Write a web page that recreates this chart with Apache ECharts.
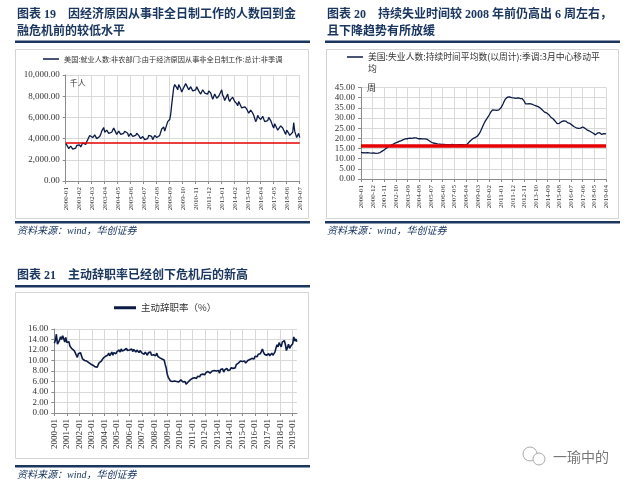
<!DOCTYPE html>
<html><head><meta charset="utf-8">
<script src="https://cdn.jsdelivr.net/npm/echarts/dist/echarts.min.js"></script>
<style>html,body{margin:0;padding:0;background:#fff}#c{width:634px;height:485px}</style>
</head><body><div id="c"></div><script>
// ---------------- DATA ----------------
const name1 = '美国:就业人数:非农部门:由于经济原因从事非全日制工作:总计:非季调';
const name2 = '美国:失业人数:持续时间平均数(以周计):季调:3月中心移动平均';
const name3 = '主动辞职率（%）';

// Chart 19: monthly 2000-01 .. 2019-07 (thousand persons)
const partTime = [
 3550,3400,3250,3050,3150,3300,3200,3000,2900,2850,3100,3350,
 3500,3300,3400,3200,3300,3600,3700,3500,3450,3700,3900,4100,
 4300,4200,4450,4100,4000,4350,4400,4000,3950,4050,4200,4400,
 4700,4600,5050,4600,4500,4800,4900,4500,4400,4550,4600,4800,
 5000,4800,4800,4400,4300,4700,4800,4400,4300,4400,4500,4700,
 4800,4600,4500,4200,4100,4500,4500,4200,4100,4200,4300,4500,
 4600,4300,4300,4000,3900,4200,4300,3900,3750,3900,4000,4300,
 4400,4200,4200,3900,3800,4300,4400,4100,4000,4200,4300,4600,
 4900,4800,5100,4700,4800,5300,5600,5500,5800,6300,7200,8000,
 8800,9100,9200,8800,8600,9100,9200,8700,8400,8600,8700,9000,
 9200,9000,9100,8600,8500,8900,8900,8500,8400,8500,8600,8900,
 8800,8500,8400,8200,8100,8600,8700,8300,8200,8300,8200,8500,
 8600,8300,8200,7700,7700,8200,8300,7800,7700,8000,8100,8400,
 8600,8100,7900,7600,7500,8000,8200,7700,7500,7700,7600,7900,
 7900,7500,7600,7300,7100,7500,7600,7100,6900,6800,6800,7000,
 7000,6800,6700,6400,6300,6700,6800,6400,6200,5900,5600,5800,
 6200,6000,6100,5800,5700,6100,6000,5600,5500,5600,5700,6000,
 6000,5700,5600,5200,5000,5400,5500,5000,4800,4900,4800,5200,
 5300,5000,4900,4600,4400,4800,4900,4500,4300,4300,4200,4600,
 5500,4700,4400,4100,3950,4500,4100
];
const partTimeRef = 3600;

// Chart 20: monthly 2000-01 .. 2019-04 (weeks)
const duration = [
 13.1,13.0,12.9,12.8,12.8,12.9,13.0,12.9,12.8,12.7,12.7,12.8,
 12.8,12.7,12.6,12.6,12.7,12.8,13.0,13.3,13.7,14.0,14.4,14.8,
 15.2,15.5,15.9,16.2,16.5,16.8,17.0,17.3,17.6,17.8,18.0,18.3,
 18.5,18.7,18.9,19.2,19.4,19.6,19.8,19.7,19.8,20.0,20.1,19.9,
 20.0,20.1,20.2,20.3,20.2,20.0,19.8,19.6,19.8,19.9,19.7,19.6,
 19.7,19.8,19.6,19.3,18.9,18.5,18.2,17.9,17.7,17.6,17.5,17.4,
 17.3,17.2,17.2,17.1,17.0,17.1,17.0,16.9,16.9,16.8,16.9,16.8,
 16.8,16.9,17.0,16.9,16.8,16.7,16.8,16.9,16.9,16.8,16.9,16.9,
 16.9,16.8,16.7,16.8,17.0,17.6,18.2,18.7,19.2,19.6,20.0,20.3,
 20.5,20.8,21.2,21.8,22.7,23.8,25.0,26.2,27.3,28.3,29.2,29.9,
 30.6,31.6,32.6,33.5,34.0,34.1,33.9,33.8,33.7,33.8,34.0,34.4,
 35.0,35.8,37.0,38.2,39.2,39.8,40.2,40.3,40.4,40.2,40.0,40.1,
 39.9,39.8,39.7,39.8,39.9,39.7,39.6,39.4,39.5,39.3,38.2,37.0,
 36.8,36.9,37.0,37.1,36.9,36.8,36.5,36.4,36.2,36.0,35.8,35.6,
 35.3,34.9,34.4,33.9,33.4,32.9,32.6,32.5,32.3,31.7,31.0,30.4,
 30.0,29.6,29.1,28.5,27.8,27.2,27.0,27.4,27.8,28.2,28.4,28.6,
 28.7,28.5,28.0,27.6,27.4,27.3,26.9,26.5,26.1,25.7,25.4,25.2,
 25.0,24.9,24.9,25.0,25.3,25.6,25.4,25.0,24.6,24.2,23.9,23.7,
 23.4,23.1,22.8,22.5,22.0,21.7,21.8,22.6,23.0,22.8,22.3,21.9,
 21.6,22.3,22.8,22.2
];
const durationRef = 16.3;

// Chart 21: monthly 2000-01 .. 2019-05 (%)
const quitRate = [
 13.3,13.8,15.0,13.1,12.8,13.9,14.5,14.0,14.7,14.2,13.5,14.4,
 13.4,13.1,13.6,12.7,12.9,12.2,12.5,11.9,11.5,11.0,10.6,11.3,
 11.0,11.5,10.9,10.3,10.6,10.0,10.2,9.9,10.1,9.6,9.8,9.3,
 9.5,9.1,9.3,8.8,9.0,8.7,9.2,9.6,9.4,9.9,10.1,10.5,
 10.2,10.8,10.6,11.0,11.4,10.9,11.2,11.6,11.0,11.5,11.8,11.3,
 11.7,11.4,12.0,11.6,12.2,11.8,11.5,12.0,11.7,12.3,11.9,11.6,
 12.0,11.8,12.2,11.7,12.1,11.9,11.6,12.0,11.8,11.5,11.9,11.6,
 11.4,11.7,11.2,11.6,11.3,11.0,11.5,11.2,11.6,11.0,11.3,11.1,
 11.2,10.9,11.4,10.8,11.1,10.5,10.8,10.3,10.6,10.1,9.3,8.6,
 7.4,6.8,6.5,6.1,5.9,6.0,5.8,6.1,5.9,6.0,6.2,5.9,
 6.0,6.3,6.1,5.9,6.2,6.0,5.5,5.7,5.9,6.0,6.3,6.5,
 6.6,6.4,6.7,6.9,6.6,7.0,7.2,6.9,7.3,7.1,7.4,7.6,
 7.3,7.7,7.5,7.9,8.2,7.6,7.9,8.0,7.7,8.1,7.8,8.0,
 7.9,8.1,7.6,8.3,8.0,8.4,7.8,8.2,7.9,8.5,8.1,8.3,
 8.2,8.6,8.9,8.5,8.8,8.6,9.2,9.0,9.5,9.3,9.9,10.2,
 9.8,9.6,9.9,9.5,9.7,10.0,9.8,10.2,10.0,10.4,10.6,10.3,
 10.8,11.0,10.7,11.2,11.5,11.3,11.7,12.2,11.6,11.2,11.4,11.0,
 11.1,11.3,10.9,11.2,11.4,11.0,11.3,11.6,12.4,13.0,12.6,13.4,
 13.0,12.6,13.5,13.2,13.8,13.0,11.9,12.5,13.1,12.3,12.7,12.5,
 13.2,14.5,13.7,14.1,13.6
];

function months(y, m, n) {
  const a = [];
  for (let i = 0; i < n; i++) {
    const k = m - 1 + i, yy = y + Math.floor(k / 12), mm = k % 12 + 1;
    a.push(yy + '-' + (mm < 10 ? '0' : '') + mm);
  }
  return a;
}
const cat1 = months(2000, 1, partTime.length);
const cat2 = months(2000, 1, duration.length);
const cat3 = months(2000, 1, quitRate.length);

// ---------------- STYLE ----------------
const NAVY = '#1B3760';
const LINE = '#0C1B46';
const RED = '#E60000';
const SERIF = '"Liberation Serif","DejaVu Serif",serif';
const CJK = '"Noto Sans CJK SC","Noto Sans",sans-serif';
const TITLEF = '"Liberation Serif","Noto Sans CJK SC",serif';
const GRIDC = '#d9d9d9';
const AXC = '#8c8c8c';

function xAxis(gi, data, interval, fs) {
  return {
    type: 'category', gridIndex: gi, data: data, boundaryGap: false,
    axisLine: { lineStyle: { color: AXC, width: 1 } },
    axisTick: { interval: interval, length: 3, lineStyle: { color: AXC } },
    axisLabel: { interval: interval, rotate: 90, fontSize: fs, fontFamily: SERIF, color: '#333', margin: 6 },
    splitLine: { show: true, interval: interval, lineStyle: { color: GRIDC, width: 1 } }
  };
}
function yAxis(gi, max, interval, fmt, extra) {
  return Object.assign({
    type: 'value', gridIndex: gi, min: 0, max: max, interval: interval,
    axisLine: { show: true, lineStyle: { color: AXC } },
    axisTick: { show: true, length: 3, lineStyle: { color: AXC } },
    axisLabel: { formatter: fmt, fontSize: 9, fontFamily: SERIF, color: '#333', margin: 6 },
    splitLine: { lineStyle: { color: GRIDC, width: 1 } }
  }, extra || {});
}
const f2 = v => v.toLocaleString('en-US', { minimumFractionDigits: 2, maximumFractionDigits: 2 });

const option = {
  backgroundColor: '#fff',
  animation: false,
  title: [
    { text: '图表 19\u3000因经济原因从事非全日制工作的人数回到金\n融危机前的较低水平', left: 17, top: 6, padding: 0,
      textStyle: { fontSize: 12, fontWeight: 'bold', color: NAVY, fontFamily: TITLEF, lineHeight: 17.5 } },
    { text: '图表 20\u3000持续失业时间较 2008 年前仍高出 6 周左右，\n且下降趋势有所放缓', left: 327, top: 6, padding: 0,
      textStyle: { fontSize: 12, fontWeight: 'bold', color: NAVY, fontFamily: TITLEF, lineHeight: 17.5 } },
    { text: '图表 21\u3000主动辞职率已经创下危机后的新高', left: 17, top: 267, padding: 0,
      textStyle: { fontSize: 12, fontWeight: 'bold', color: NAVY, fontFamily: TITLEF, lineHeight: 17.5 } },
    { text: '资料来源：wind，华创证券', left: 17, top: 226, padding: 0,
      textStyle: { fontSize: 10, fontStyle: 'italic', fontWeight: 'normal', color: NAVY, fontFamily: TITLEF } },
    { text: '资料来源：wind，华创证券', left: 327, top: 226, padding: 0,
      textStyle: { fontSize: 10, fontStyle: 'italic', fontWeight: 'normal', color: NAVY, fontFamily: TITLEF } },
    { text: '资料来源：wind，华创证券', left: 17, top: 470, padding: 0,
      textStyle: { fontSize: 10, fontStyle: 'italic', fontWeight: 'normal', color: NAVY, fontFamily: TITLEF } }
  ],
  legend: [
    { data: [name1], left: 43, top: 54, padding: 0, icon: 'rect', itemWidth: 16, itemHeight: 1.5,
      textStyle: { fontSize: 7.2, fontFamily: CJK, color: '#333', lineHeight: 10 } },
    { data: [name2], left: 347, top: 39, padding: 0, icon: 'rect', itemWidth: 16, itemHeight: 1.5,
      formatter: n => '\n' + n.replace('移动平均', '移动平\n均'),
      textStyle: { fontSize: 8.8, fontFamily: CJK, color: '#333', lineHeight: 12 } },
    { data: [name3], left: 114, top: 303, padding: 0, icon: 'rect', itemWidth: 22, itemHeight: 3,
      textStyle: { fontSize: 9.5, fontFamily: CJK, color: '#333' } }
  ],
  grid: [
    { left: 65.7, top: 75, width: 234, height: 106 },
    { left: 361, top: 87.5, width: 245, height: 91.5 },
    { left: 54.3, top: 329, width: 242.6, height: 84 }
  ],
  xAxis: [ xAxis(0, cat1, 12, 7), xAxis(1, cat2, 10, 7), xAxis(2, cat3, 11, 9) ],
  yAxis: [
    yAxis(0, 10000, 2000, f2, { name: '千人', nameLocation: 'end', nameGap: -12,
      nameTextStyle: { align: 'left', padding: [0, 0, 0, 4], fontSize: 8, color: '#333', fontFamily: CJK } }),
    yAxis(1, 45, 5, f2, { name: '周', nameLocation: 'end', nameGap: 0,
      nameTextStyle: { align: 'left', padding: [0, 0, 0, 6], fontSize: 9, color: '#333', fontFamily: CJK, verticalAlign: 'middle' } }),
    yAxis(2, 16, 2, f2)
  ],
  series: [
    { type: 'line', name: name1, xAxisIndex: 0, yAxisIndex: 0, data: partTime, symbol: 'none', showSymbol: false,
      lineStyle: { color: LINE, width: 1.3 }, itemStyle: { color: LINE },
      markLine: { silent: true, symbol: 'none', label: { show: false }, animation: false,
        lineStyle: { color: RED, type: 'solid', width: 1.5 }, data: [{ yAxis: partTimeRef }] } },
    { type: 'line', name: name2, xAxisIndex: 1, yAxisIndex: 1, data: duration, symbol: 'none', showSymbol: false,
      lineStyle: { color: LINE, width: 1.3 }, itemStyle: { color: LINE },
      markLine: { silent: true, symbol: 'none', label: { show: false }, animation: false,
        lineStyle: { color: RED, type: 'solid', width: 3.5 }, data: [{ yAxis: durationRef }] } },
    { type: 'line', name: name3, xAxisIndex: 2, yAxisIndex: 2, data: quitRate, symbol: 'none', showSymbol: false,
      lineStyle: { color: LINE, width: 1.6 }, itemStyle: { color: LINE } }
  ],
  graphic: [
    // chart frames
    { type: 'rect', silent: true, z: -10, shape: { x: 15.5, y: 49.5, width: 293, height: 169 }, style: { fill: 'none', stroke: '#d4d4d4', lineWidth: 1 } },
    { type: 'rect', silent: true, z: -10, shape: { x: 326.5, y: 49.5, width: 292, height: 169 }, style: { fill: 'none', stroke: '#d4d4d4', lineWidth: 1 } },
    { type: 'rect', silent: true, z: -10, shape: { x: 15.5, y: 292.5, width: 293, height: 166 }, style: { fill: 'none', stroke: '#d4d4d4', lineWidth: 1 } },
    // header / footer rules
    { type: 'rect', silent: true, shape: { x: 15, y: 40.5, width: 295, height: 2.5 }, style: { fill: NAVY } },
    { type: 'rect', silent: true, shape: { x: 325, y: 40.5, width: 295, height: 2.5 }, style: { fill: NAVY } },
    { type: 'rect', silent: true, shape: { x: 15, y: 221, width: 295, height: 2.5 }, style: { fill: NAVY } },
    { type: 'rect', silent: true, shape: { x: 325, y: 221, width: 295, height: 2.5 }, style: { fill: NAVY } },
    { type: 'rect', silent: true, shape: { x: 15, y: 285, width: 295, height: 2.5 }, style: { fill: NAVY } },
    { type: 'rect', silent: true, shape: { x: 15, y: 465, width: 295, height: 2.5 }, style: { fill: NAVY } },
    // watermark
    { type: 'circle', silent: true, shape: { cx: 530, cy: 454, r: 7 }, style: { fill: 'none', stroke: '#aaa', lineWidth: 1 } },
    { type: 'circle', silent: true, shape: { cx: 539, cy: 459, r: 6 }, style: { fill: '#fff', stroke: '#aaa', lineWidth: 1 } },
    { type: 'text', silent: true, style: { x: 553, y: 457, text: '一瑜中的', fill: '#777', fontSize: 14, fontFamily: CJK, verticalAlign: 'middle' } }
  ]
};

const chart = echarts.init(document.getElementById('c'), null, { renderer: 'canvas' });
chart.setOption(option);
</script></body></html>
